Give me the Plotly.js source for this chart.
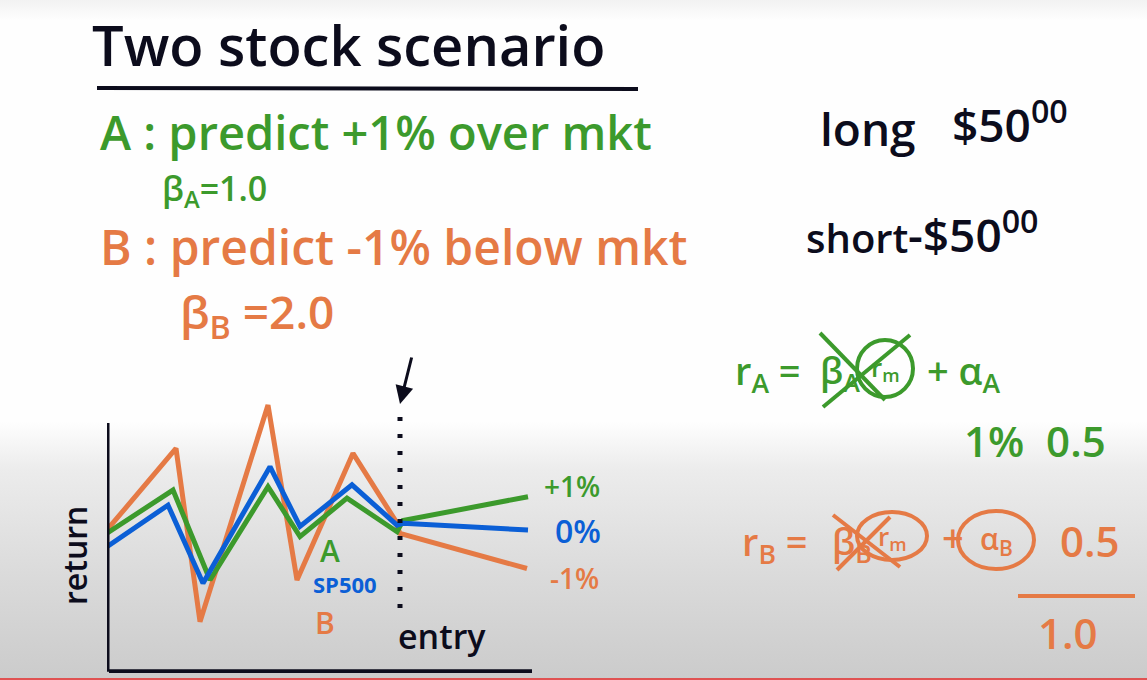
<!DOCTYPE html>
<html>
<head>
<meta charset="utf-8">
<script src="https://cdn.plot.ly/plotly-3.0.1.min.js"></script>
<style>
  html, body { margin:0; padding:0; }
  body {
    width:1147px; height:680px; overflow:hidden;
    background: linear-gradient(to bottom, #f2f2f2 0%, #fefefe 3%, #fefefe 62%, #ececec 69%, #dadada 85%, #cbcbcb 100%);
  }
  #board { width:1147px; height:680px; }
</style>
</head>
<body>
<div id="board"></div>
<script>
///////////////////////////////////////////////////////////////////////////////
// data: return (%) over time (days)
const days_a   = [0, 6.6, 10.3, 16.1, 19.3, 24.0, 29.0, 29.6, 42.1];
const ret_a    = [-0.09, 1.14, -1.43, 1.24, -0.19, 0.91, -0.05, 0.27, 0.95];

const days_sp  = [0, 6.1, 9.6, 16.3, 19.3, 24.5, 29.0, 29.6, 42.1];
const ret_sp   = [-0.48, 0.71, -1.52, 1.81, 0.10, 1.29, 0.14, 0.19, 0.0];

const days_b   = [0, 6.9, 9.3, 16.1, 19.0, 24.6, 28.8, 29.3, 42.0];
const ret_b    = [0.0, 2.33, -2.62, 3.57, -1.43, 2.19, 0.29, -0.10, -1.10];

const entry_day = 29.3;
const end_labels = ['+1%', '0%', '-1%'];
const series_names = ['A', 'SP500', 'B'];

const GREEN  = '#3c9a2c';
const BLUE   = '#0b5fd6';
const ORANGE = '#e57a45';
const INK    = '#0c0c1c';

const W = 1147, H = 680;
const FONT = '"Open Sans", "DejaVu Sans", sans-serif';

// page pixel -> paper
function px(x) { return x / W; }
function py(y) { return 1 - y / H; }

function note(text, x, y, size, color, anchor, extra) 
{
    let a = {
        text: text, xref:'paper', yref:'paper', x:px(x), y:py(y),
        xanchor: anchor || 'left', yanchor:'middle', showarrow:false,
        font: {family:FONT, size:size, color:color, weight:600},
    };
    return Object.assign(a, extra || {});
}

function seg(x0, y0, x1, y1, color, width) 
{
    return {type:'line', xref:'paper', yref:'paper',
            x0:px(x0), y0:py(y0), x1:px(x1), y1:py(y1),
            line:{color:color, width:width}};
}

function ring(x0, y0, x1, y1, color) 
{
    return {type:'circle', xref:'paper', yref:'paper',
            x0:px(x0), y0:py(y0), x1:px(x1), y1:py(y1),
            line:{color:color, width:4}};
}


///////////////////////////////////////////////////////////////////////////////
let plot_traces = [];

function line_trace(xs, ys, color, name) 
{
    return {x:xs, y:ys, name:name, mode:'lines', type:'scatter',
            line:{color:color, width:5, shape:'linear'}, hoverinfo:'skip'};
}

plot_traces.push( line_trace(days_b,  ret_b,  ORANGE, series_names[2]) );
plot_traces.push( line_trace(days_a,  ret_a,  GREEN,  series_names[0]) );
plot_traces.push( line_trace(days_sp, ret_sp, BLUE,   series_names[1]) );

const y_low = -4.05, y_top = 3.06;   // hand drawn axes

let plot_shapes = [
    // axes of the little chart
    {type:'line', xref:'x', yref:'y', x0:0, x1:0, y0:y_low, y1:y_top, line:{color:INK, width:5}},
    {type:'line', xref:'x', yref:'y', x0:0.2, x1:42.5, y0:y_low, y1:y_low, line:{color:INK, width:5}},
    // entry marker
    {type:'line', xref:'x', yref:'y', x0:entry_day, x1:entry_day, y0:3.23, y1:-2.55,
     line:{color:INK, width:5, dash:'4px,13px'}},
    // title underline
    seg(97, 88, 638, 89, INK, 4),
    // r_A crossed out
    seg(820, 333, 885, 400, GREEN, 4),
    seg(910, 335, 823, 407, GREEN, 4),
    ring(857, 340, 913, 397, GREEN),
    // r_B crossed out
    seg(833, 515, 900, 567, ORANGE, 4),
    seg(890, 517, 837, 570, ORANGE, 4),
    ring(857, 512, 927, 560, ORANGE),
    ring(958, 511, 1034, 569, ORANGE),
    // sum line
    seg(1018, 596, 1135, 596, ORANGE, 4),
    // bottom progress bar
    seg(0, 679, W, 679, '#e05252', 2),
];

let plot_annotations = [
    note('Two stock scenario', 90, 44, 56, INK),

    note('A : predict +1% over mkt', 98, 132, 47, GREEN),
    note('β<sub>A</sub>=1.0', 160, 190, 34, GREEN),
    note('B : predict -1% below mkt', 98, 246, 48, ORANGE),
    note('β<sub>B</sub> =2.0', 178, 314, 46, ORANGE),

    note('long', 818, 128, 46, INK),
    note('$50<sup>00</sup>', 950, 122, 46, INK),
    note('short', 804, 238, 40, INK),
    note('-$50<sup>00</sup>', 906, 232, 46, INK),

    note('r<sub>A</sub> =', 733, 372, 38, GREEN),
    note('β<sub>A</sub>', 818, 372, 36, GREEN),
    note('r<sub>m</sub>', 885, 368, 26, GREEN, 'center'),
    note('+ α<sub>A</sub>', 925, 372, 38, GREEN),
    note('1%  0.5', 962, 440, 42, GREEN),

    note('r<sub>B</sub> =', 740, 543, 38, ORANGE),
    note('β<sub>B</sub>', 830, 543, 36, ORANGE),
    note('r<sub>m</sub>', 892, 537, 26, ORANGE, 'center'),
    note('+', 940, 537, 38, ORANGE),
    note('α<sub>B</sub>', 996, 540, 30, ORANGE, 'center'),
    note('0.5', 1058, 540, 42, ORANGE),
    note('1.0', 1036, 632, 42, ORANGE),

    // chart labels
    note('return', 74, 556, 32, INK, 'center', {textangle:-90}),
    note(end_labels[0], 572, 486, 28, GREEN, 'center'),
    note(end_labels[1], 578, 530, 32, BLUE, 'center'),
    note(end_labels[2], 574, 578, 28, ORANGE, 'center'),
    note(series_names[0], 330, 550, 30, GREEN, 'center'),
    note('<b>' + series_names[1] + '</b>', 345, 584, 22, BLUE, 'center'),
    note(series_names[2], 325, 622, 30, ORANGE, 'center'),
    note('entry', 442, 636, 34, INK, 'center'),

    // arrow pointing at entry
    {text:'', xref:'paper', yref:'paper', x:px(400), y:py(404),
     showarrow:true, ax:12, ay:-48, arrowhead:2, arrowsize:1.2, arrowwidth:3, arrowcolor:INK},
];

let plot_layout = {
    width: W, height: H, autosize: false,
    margin: {l:0, r:0, t:0, b:0},
    paper_bgcolor: 'rgba(0,0,0,0)',
    plot_bgcolor: 'rgba(0,0,0,0)',
    showlegend: false,
    hovermode: false,
    xaxis: {
        domain: [px(107), px(532)],
        range: [0, 42.5],
        visible: false, fixedrange: true,
    },
    yaxis: {
        domain: [py(673), py(395)],
        range: [-4.086, 3.857],
        visible: false, fixedrange: true,
    },
    shapes: plot_shapes,
    annotations: plot_annotations,
};

Plotly.newPlot('board', plot_traces, plot_layout, {staticPlot:true, displayModeBar:false});
</script>
</body>
</html>
